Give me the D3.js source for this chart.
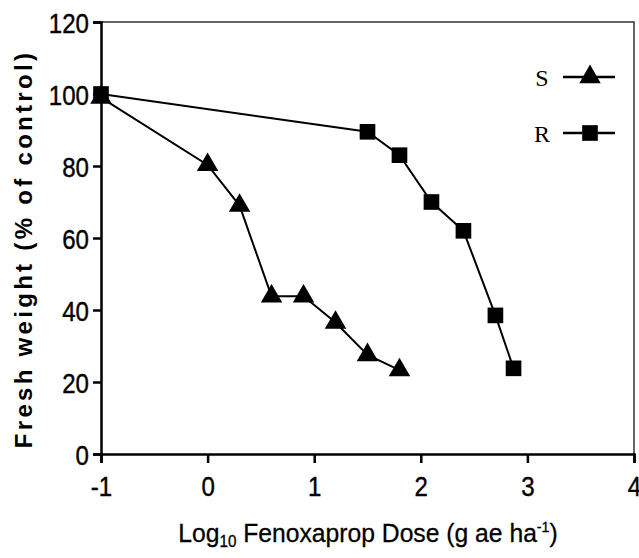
<!DOCTYPE html>
<html>
<head>
<meta charset="utf-8">
<script src="https://cdn.jsdelivr.net/npm/d3@7"></script>
<style>
  body { margin: 0; background: #fff; }
  .tick text { font-family: "Liberation Sans", Arial, sans-serif; }
</style>
</head>
<body>
<svg id="chart" width="639" height="558"></svg>
<script>
// log10 dose values and fresh weight (% of control)
const sDose = [-1, 0, 0.3, 0.6, 0.9, 1.2, 1.5, 1.8];
const sWeight = [99, 80.3, 69, 43.8, 43.8, 36.5, 27.5, 23.3];
const rDose = [-1, 1.5, 1.8, 2.1, 2.4, 2.7, 2.87];
const rWeight = [100, 89.5, 83, 70, 62, 38.5, 23.8];
const xTicks = [-1, 0, 1, 2, 3, 4];
const yTicks = [0, 20, 40, 60, 80, 100, 120];

const svg = d3.select('#chart');
const margin = { top: 22, right: 5, bottom: 104, left: 101 };
const width = 639 - margin.left - margin.right;
const height = 558 - margin.top - margin.bottom;

const g = svg.append('g')
  .attr('transform', 'translate(' + margin.left + ',' + margin.top + ')');

const x = d3.scaleLinear().domain([-1, 4]).range([0, width]);
const y = d3.scaleLinear().domain([0, 120]).range([height, 0]);

// top and right frame
g.append('path')
  .attr('d', 'M0,0H' + width + 'V' + height)
  .attr('fill', 'none')
  .attr('stroke', '#333')
  .attr('stroke-width', 1.5);

// axes
const xAxis = g.append('g')
  .attr('transform', 'translate(0,' + height + ')')
  .call(d3.axisBottom(x).tickValues(xTicks).tickSize(9).tickPadding(0).tickFormat(d => String(d)));
const yAxis = g.append('g')
  .call(d3.axisLeft(y).tickValues(yTicks).tickSize(8).tickPadding(0));

[xAxis, yAxis].forEach(a => {
  a.select('.domain').attr('stroke', '#000').attr('stroke-width', 2.5);
  a.selectAll('.tick line').attr('stroke', '#000').attr('stroke-width', 2.5);
  a.selectAll('.tick text')
    .attr('fill', '#000')
    .attr('stroke', '#000')
    .attr('stroke-width', 0.4)
    .style('font-size', '28px');
});
// the tick labels are a narrow face, so squeeze them sideways
xAxis.selectAll('.tick text')
  .attr('y', 0).attr('dy', 0)
  .attr('transform', 'translate(0,42) scale(0.86,1)');
yAxis.selectAll('.tick text')
  .attr('x', 0).attr('dy', 0)
  .attr('transform', 'translate(-12,10) scale(0.86,1)');

const line = d3.line()
  .x(d => x(d[0]))
  .y(d => y(d[1]));

const sData = sDose.map((d, i) => [d, sWeight[i]]);
const rData = rDose.map((d, i) => [d, rWeight[i]]);

g.append('path').datum(rData)
  .attr('d', line)
  .attr('fill', 'none')
  .attr('stroke', '#000')
  .attr('stroke-width', 2);

g.append('path').datum(sData)
  .attr('d', line)
  .attr('fill', 'none')
  .attr('stroke', '#000')
  .attr('stroke-width', 2);

const tri = d3.symbol().type(d3.symbolTriangle).size(200);
const sq = d3.symbol().type(d3.symbolSquare).size(245);

g.selectAll('.s-pt').data(sData).enter()
  .append('path')
  .attr('class', 's-pt')
  .attr('d', tri)
  .attr('transform', d => 'translate(' + x(d[0]) + ',' + y(d[1]) + ')')
  .attr('fill', '#000');

g.selectAll('.r-pt').data(rData).enter()
  .append('path')
  .attr('class', 'r-pt')
  .attr('d', sq)
  .attr('transform', d => 'translate(' + x(d[0]) + ',' + y(d[1]) + ')')
  .attr('fill', '#000');

// legend
const legend = [
  { name: 'S', sym: tri, y: 77 },
  { name: 'R', sym: sq, y: 133 }
];
legend.forEach(l => {
  const lg = svg.append('g').attr('transform', 'translate(0,' + l.y + ')');
  lg.append('text')
    .attr('x', 542)
    .attr('y', 9)
    .attr('text-anchor', 'middle')
    .style('font-family', '"Liberation Serif", "Times New Roman", serif')
    .style('font-size', '24px')
    .text(l.name);
  lg.append('line')
    .attr('x1', 563).attr('x2', 615)
    .attr('stroke', '#000').attr('stroke-width', 2.5);
  lg.append('path')
    .attr('d', l.sym)
    .attr('transform', 'translate(590,0)')
    .attr('fill', '#000');
});

// axis titles
svg.append('text')
  .attr('transform', 'translate(32,249) rotate(-90)')
  .attr('text-anchor', 'middle')
  .style('font-family', '"Liberation Sans", Arial, sans-serif')
  .style('font-weight', 'bold')
  .style('font-size', '24px')
  .style('letter-spacing', '3.3px')
  .text('Fresh weight (% of control)');

const xt = svg.append('text')
  .attr('transform', 'translate(368,542) scale(0.95,1)')
  .attr('text-anchor', 'middle')
  .attr('stroke', '#000')
  .attr('stroke-width', 0.3)
  .style('font-family', '"Liberation Sans", Arial, sans-serif')
  .style('font-size', '26px');
xt.append('tspan').text('Log');
xt.append('tspan').attr('dy', 5).style('font-size', '16px').text('10');
xt.append('tspan').attr('dy', -5).text(' Fenoxaprop Dose (g ae ha');
xt.append('tspan').attr('dy', -10).style('font-size', '15px').text('-1');
xt.append('tspan').attr('dy', 10).text(')');
</script>
</body>
</html>
